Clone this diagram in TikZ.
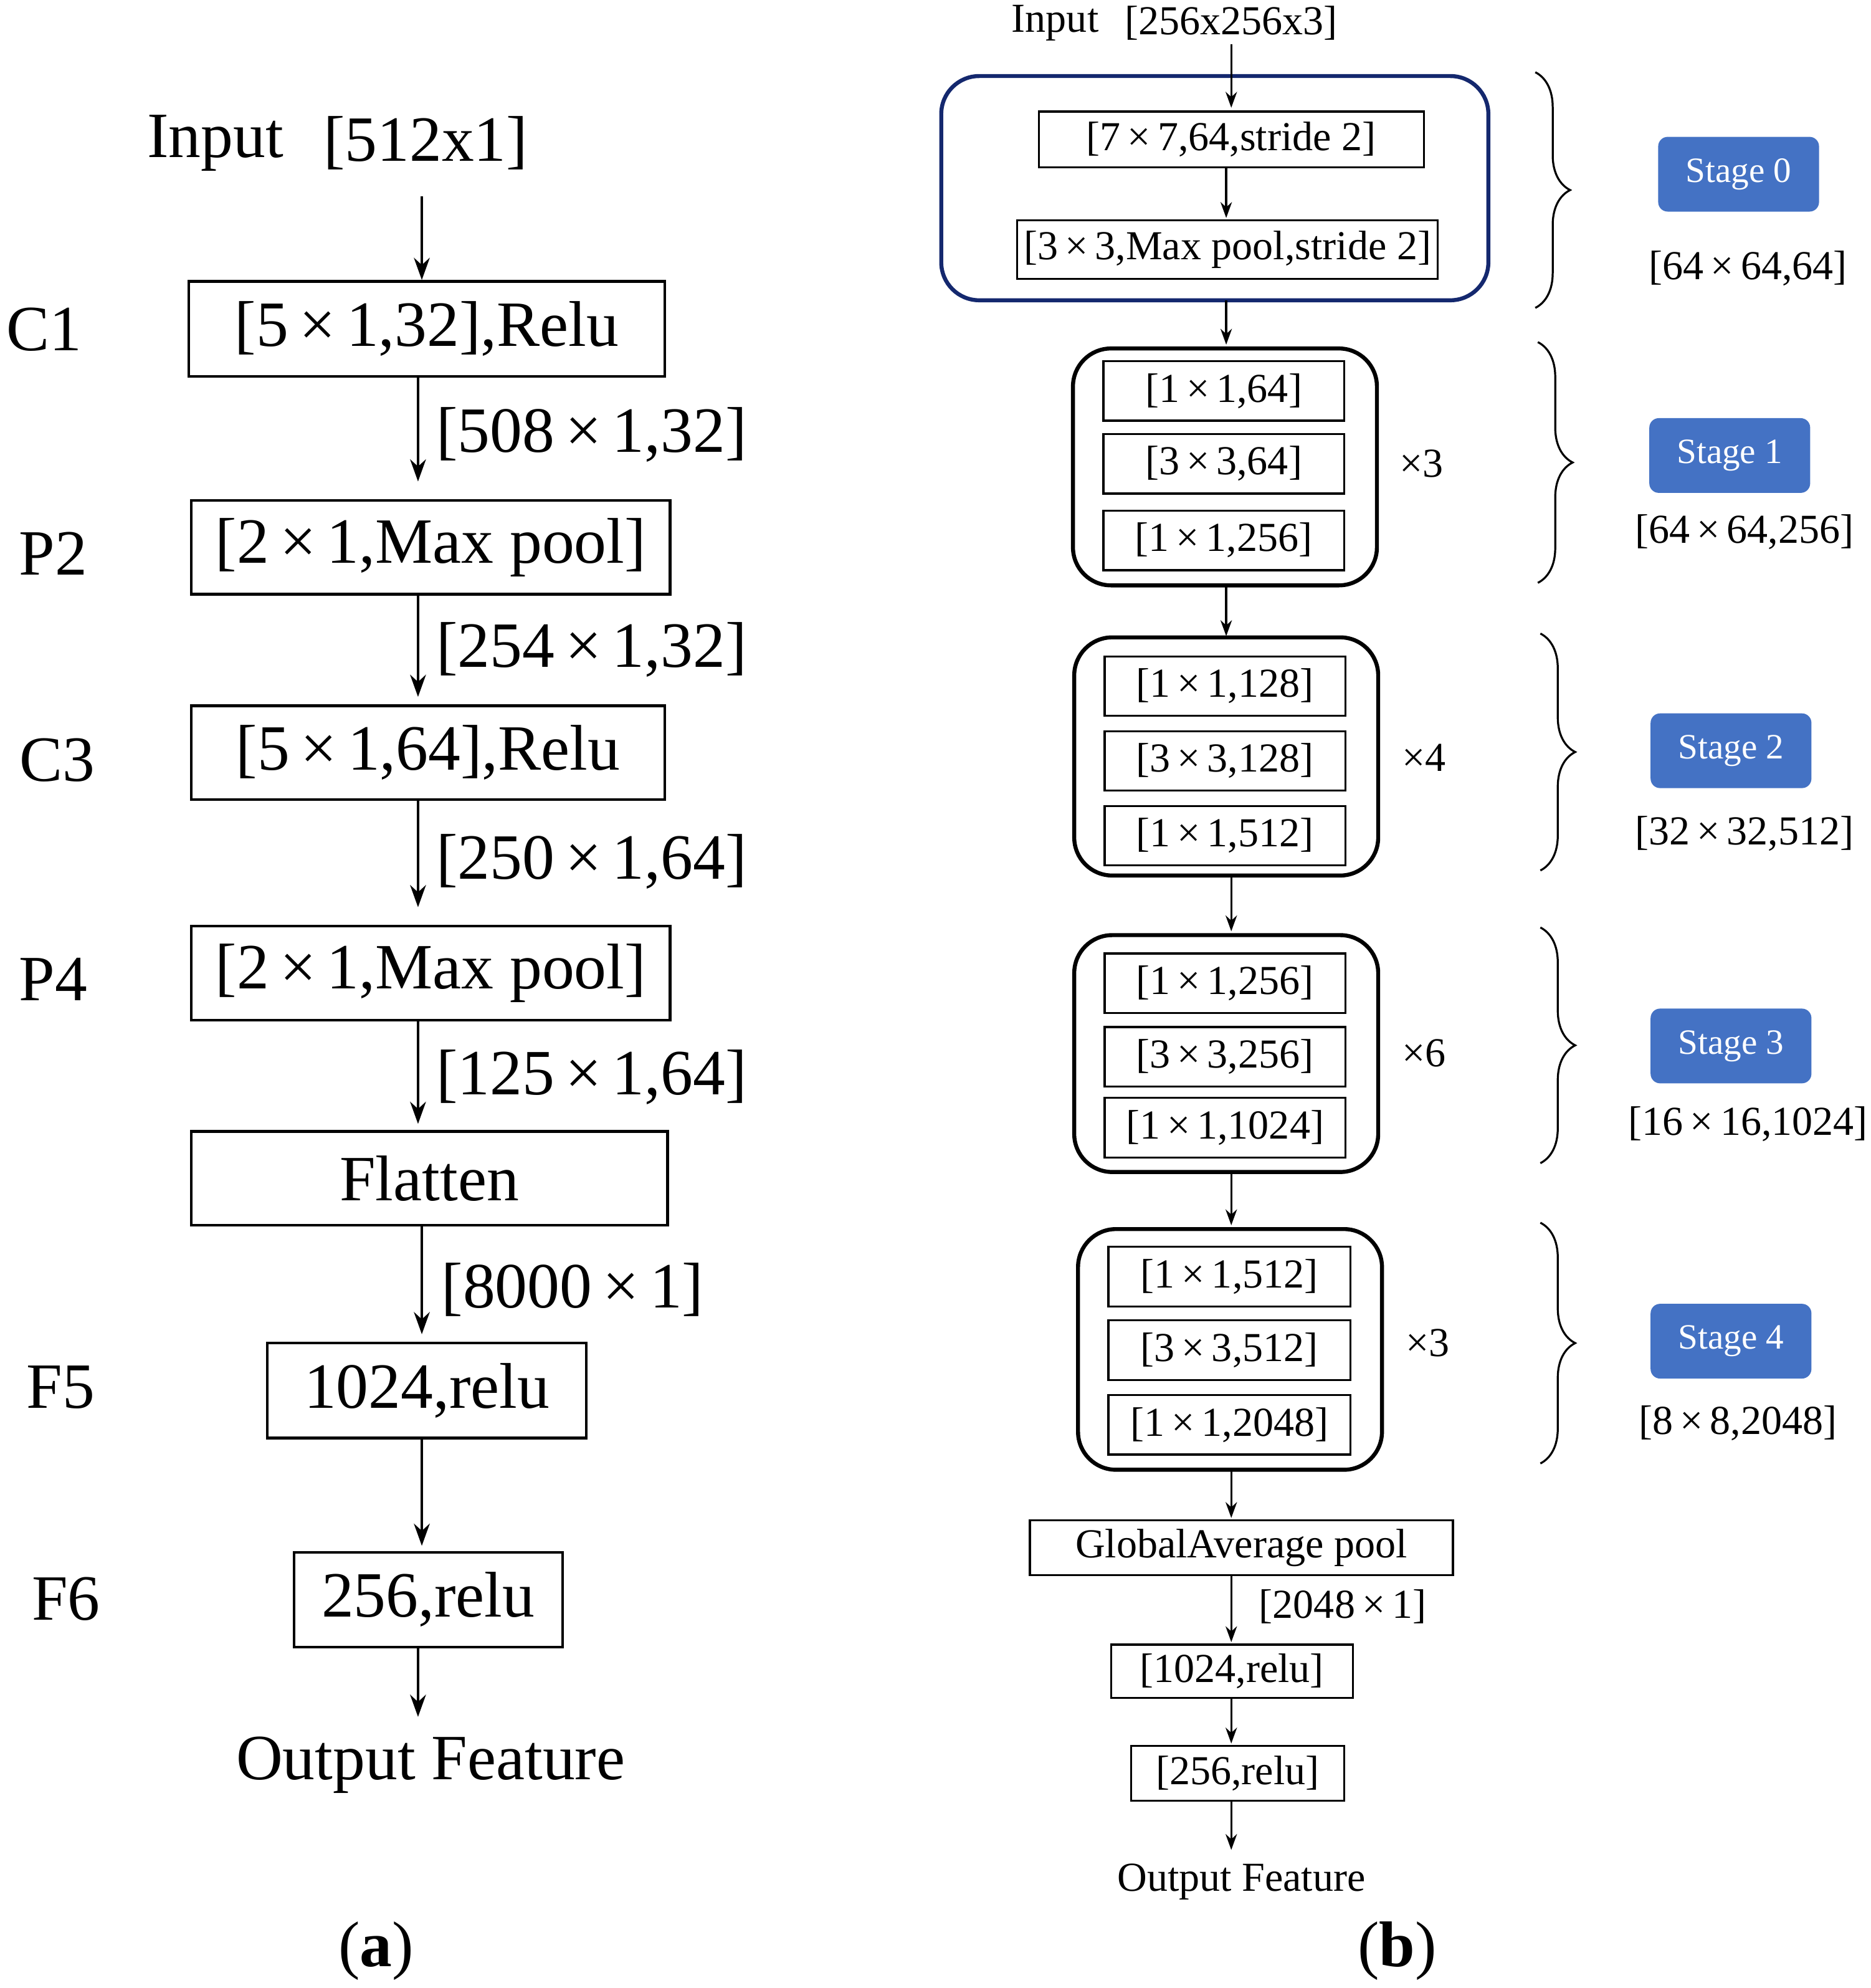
\documentclass[tikz,border=0pt]{standalone}
\usepackage{fontspec}
\setmainfont{Liberation Serif}
\usetikzlibrary{arrows.meta,decorations.pathreplacing}
\newcommand{\X}{\,×\,}
\begin{document}
\begin{tikzpicture}[x=0.02cm,y=-0.02cm,
  lbox/.style={draw,line width=1.2pt,inner sep=0pt,font=\fontsize{29}{31}\selectfont},
  big/.style={font=\fontsize{29}{31}\selectfont},
  rbox/.style={draw,line width=0.9pt,inner sep=0pt,font=\fontsize{18.5}{20}\selectfont},
  rtxt/.style={font=\fontsize{18.5}{20}\selectfont},
  grp/.style={draw,line width=1.8pt,rounded corners=0.6cm,inner sep=0pt},
  stg/.style={fill=stageblue,rounded corners=0.15cm,text=white,minimum width=2.54cm,minimum height=1.18cm,font=\fontsize{16}{18}\selectfont},
  arr/.style={line width=1.1pt,-{Stealth[length=0.35cm,width=0.25cm]}},
  rarr/.style={line width=0.9pt,-{Stealth[length=0.25cm,width=0.18cm]}},
  br/.style={line width=0.9pt,decorate,decoration={brace,amplitude=0.55cm}}]
\definecolor{stageblue}{RGB}{68,114,196}
\definecolor{navy}{RGB}{20,40,110}
\useasboundingbox (0,0) rectangle (1477,1569);
% ---------- left ----------
\node[big] (inl) at (170,113) {Input};
\node[big] (inr) at (336,113) {[512x1]};
\coordinate (a0) at (333,155);
\node[lbox,minimum width=7.52cm,minimum height=1.5cm] (c1) at (337,259.5) {[5\X1,32],Relu};
\node[lbox,minimum width=7.56cm,minimum height=1.48cm] (p2) at (340,432) {[2\X1,Max pool]};
\node[lbox,minimum width=7.48cm,minimum height=1.48cm] (c3) at (338,594) {[5\X1,64],Relu};
\node[lbox,minimum width=7.56cm,minimum height=1.48cm] (p4) at (340,768) {[2\X1,Max pool]};
\node[lbox,minimum width=7.52cm,minimum height=1.48cm] (fl) at (339,930) {Flatten};
\node[lbox,minimum width=5.04cm,minimum height=1.5cm] (f5) at (337,1097.5) {1024,relu};
\node[lbox,minimum width=4.24cm,minimum height=1.5cm] (f6) at (338,1262.5) {256,relu};
\node[big] (outl) at (340,1393) {Output Feature};
\node[big] (lc1) at (35,260) {C1};
\node[big] (lp2) at (42,437) {P2};
\node[big] (lc3) at (45,600) {C3};
\node[big] (lp4) at (42,773) {P4};
\node[big] (lf5) at (48,1095) {F5};
\node[big] (lf6) at (52,1262) {F6};
\draw[arr] (a0) -- (a0 |- c1.north);
\draw[arr] (330,297) -- (330,380);
\draw[arr] (330,469) -- (330,550);
\draw[arr] (330,631) -- (330,716);
\draw[arr] (330,805) -- (330,887);
\draw[arr] (333,967) -- (333,1053);
\draw[arr] (333,1135) -- (333,1220);
\draw[arr] (330,1300) -- (330,1355);
\node[big] (l1) at (467,343) {[508\X1,32]};
\node[big] (l2) at (467,513) {[254\X1,32]};
\node[big] (l3) at (467,680) {[250\X1,64]};
\node[big] (l4) at (467,850) {[125\X1,64]};
\node[big] (l5) at (452,1018) {[8000\X1]};
\node[big] (la) at (297,1540) {(\textbf{a})};
% ---------- right ----------
\node[rtxt] (rin1) at (833,18) {Input};
\node[rtxt] (rin2) at (972,18) {[256x256x3]};
\node[grp,draw=navy,minimum width=8.64cm,minimum height=3.54cm] (s0) at (959,148.5) {};
\node[rbox,minimum width=6.08cm,minimum height=0.88cm] (s0a) at (972,110) {[7\X7,64,stride 2]};
\node[rbox,minimum width=6.64cm,minimum height=0.92cm] (s0b) at (969,197) {[3\X3,Max pool,stride 2]};
\draw[rarr] (972,35) -- (972,85);
\draw[rarr] (968,132) -- (968,172);
\draw[rarr] (968,237) -- (968,272);
% stage 1
\node[grp,minimum width=4.8cm,minimum height=3.74cm] (s1) at (967,368.5) {};
\node[rbox,minimum width=3.8cm,minimum height=0.94cm] (s1a) at (966,308.5) {[1\X1,64]};
\node[rbox,minimum width=3.8cm,minimum height=0.94cm] (s1b) at (966,366) {[3\X3,64]};
\node[rbox,minimum width=3.8cm,minimum height=0.94cm] (s1c) at (966,426.5) {[1\X1,256]};
\node[rtxt] (m1) at (1122,366) {×3};
\draw[rarr] (968,462) -- (968,502);
% stage 2
\node[grp,minimum width=4.8cm,minimum height=3.76cm] (s2) at (968,597) {};
\node[rbox,minimum width=3.8cm,minimum height=0.94cm] (s2a) at (967,541.5) {[1\X1,128]};
\node[rbox,minimum width=3.8cm,minimum height=0.94cm] (s2b) at (967,600.5) {[3\X3,128]};
\node[rbox,minimum width=3.8cm,minimum height=0.94cm] (s2c) at (967,659.5) {[1\X1,512]};
\node[rtxt] (m2) at (1124,598) {×4};
\draw[rarr] (972,691) -- (972,735);
% stage 3
\node[grp,minimum width=4.8cm,minimum height=3.74cm] (s3) at (968,831.5) {};
\node[rbox,minimum width=3.8cm,minimum height=0.94cm] (s3a) at (967,776) {[1\X1,256]};
\node[rbox,minimum width=3.8cm,minimum height=0.94cm] (s3b) at (967,834) {[3\X3,256]};
\node[rbox,minimum width=3.8cm,minimum height=0.94cm] (s3c) at (967,890) {[1\X1,1024]};
\node[rtxt] (m3) at (1124,831) {×6};
\draw[rarr] (972,925) -- (972,967);
% stage 4
\node[grp,minimum width=4.8cm,minimum height=3.8cm] (s4) at (971,1065) {};
\node[rbox,minimum width=3.82cm,minimum height=0.94cm] (s4a) at (970.5,1007.5) {[1\X1,512]};
\node[rbox,minimum width=3.82cm,minimum height=0.94cm] (s4b) at (970.5,1065.5) {[3\X3,512]};
\node[rbox,minimum width=3.82cm,minimum height=0.94cm] (s4c) at (970.5,1124.5) {[1\X1,2048]};
\node[rtxt] (m4) at (1127,1060) {×3};
\draw[rarr] (972,1160) -- (972,1198);
% tail
\node[rbox,minimum width=6.68cm,minimum height=0.86cm] (gap) at (980,1221.5) {GlobalAverage pool};
\node[rbox,minimum width=3.82cm,minimum height=0.84cm] (fc1) at (972.5,1319) {[1024,relu]};
\node[rbox,minimum width=3.36cm,minimum height=0.86cm] (fc2) at (977,1399.5) {[256,relu]};
\node[rtxt] (outr) at (980,1485) {Output Feature};
\node[rtxt] (g1) at (1060,1268) {[2048\X1]};
\draw[rarr] (972,1243) -- (972,1296);
\draw[rarr] (972,1340) -- (972,1376);
\draw[rarr] (972,1421) -- (972,1460);
\node[big] (lb) at (1103,1540) {(\textbf{b})};
% braces and stage tags
\draw[br] (1212,57) -- (1212,243);
\draw[br] (1214,270) -- (1214,460);
\draw[br] (1216,500) -- (1216,687);
\draw[br] (1216,732) -- (1216,918);
\draw[br] (1216,965) -- (1216,1155);
\node[stg] (t0) at (1372.5,137.5) {Stage 0};
\node[stg] (t1) at (1365.5,359.5) {Stage 1};
\node[stg] (t2) at (1366.5,592.5) {Stage 2};
\node[stg] (t3) at (1366.5,825.5) {Stage 3};
\node[stg] (t4) at (1366.5,1058.5) {Stage 4};
\node[rtxt] (d0) at (1380,212) {[64\X64,64]};
\node[rtxt] (d1) at (1377,420) {[64\X64,256]};
\node[rtxt] (d2) at (1377,658) {[32\X32,512]};
\node[rtxt] (d3) at (1380,887) {[16\X16,1024]};
\node[rtxt] (d4) at (1372,1123) {[8\X8,2048]};
\end{tikzpicture}
\end{document}
